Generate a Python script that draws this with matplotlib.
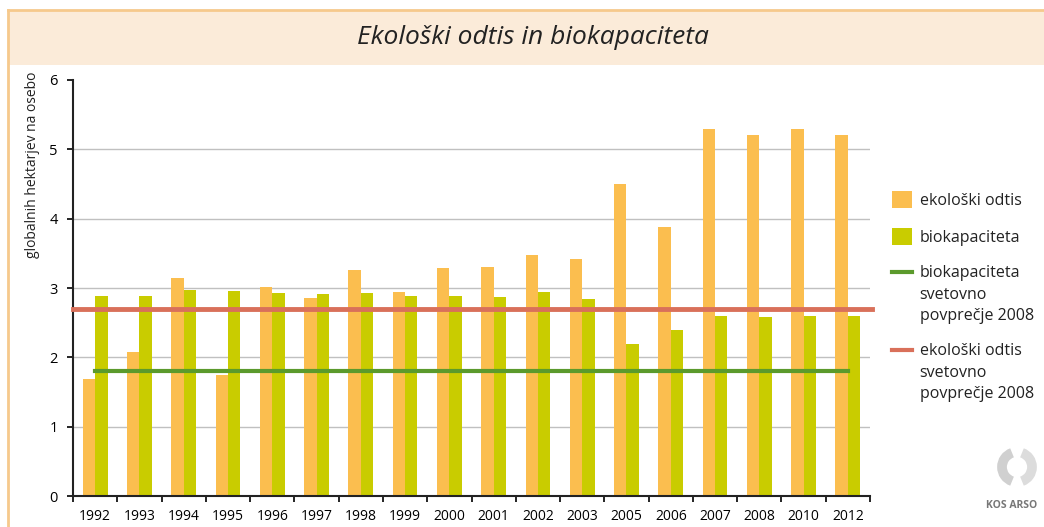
import numpy as np
import matplotlib.pyplot as plt
from matplotlib.patches import Rectangle, Patch, Arc
from matplotlib.lines import Line2D
from matplotlib.legend_handler import HandlerLine2D

years = ['1992', '1993', '1994', '1995', '1996', '1997', '1998', '1999', '2000',
         '2001', '2002', '2003', '2005', '2006', '2007', '2008', '2010', '2012']
odtis = [1.69, 2.08, 3.15, 1.74, 3.02, 2.86, 3.26, 2.94, 3.29,
         3.30, 3.48, 3.42, 4.50, 3.88, 5.29, 5.21, 5.29, 5.20]
biokap = [2.89, 2.88, 2.97, 2.95, 2.93, 2.91, 2.93, 2.88, 2.88,
          2.87, 2.94, 2.84, 2.19, 2.39, 2.60, 2.58, 2.60, 2.60]
biokap_svet = 1.8
odtis_svet = 2.7

plt.rcParams['font.family'] = ['Open Sans', 'DejaVu Sans']


class TopLine(HandlerLine2D):
    # put the line next to the first row of a multi-line label
    def create_artists(self, legend, orig_handle, xdescent, ydescent, width, height,
                       fontsize, trans):
        arts = super().create_artists(legend, orig_handle, xdescent, ydescent, width,
                                      height, fontsize, trans)
        for a in arts:
            a.set_ydata(np.asarray(a.get_ydata(), dtype=float) + 16)
        return arts


fig = plt.figure(figsize=(10.44, 5.27), dpi=100)
W, H = 1044, 527

# title band
fig.patches.append(Rectangle((8 / W, 1 - 65 / H), 1, 55 / H, transform=fig.transFigure,
                             facecolor='#fbebd9', edgecolor='none', zorder=0))
fig.add_artist(Line2D([8 / W, 1], [1 - 10 / H, 1 - 10 / H], transform=fig.transFigure,
                      color='#f6c98c', lw=2))
fig.add_artist(Line2D([8 / W, 8 / W], [0, 1 - 10 / H], transform=fig.transFigure,
                      color='#f6c98c', lw=2))
fig.text(533 / W, 1 - 38 / H, 'Ekološki odtis in biokapaciteta', ha='center', va='center',
         fontsize=19, style='italic', color='#222222')

ax = fig.add_axes([73 / W, 1 - 496 / H, (870 - 73) / W, (496 - 80) / H])
x = np.arange(len(years))
w = 0.28
ax.bar(x - w / 2, odtis, w, color='#fbbe4f', zorder=2)
ax.bar(x + w / 2, biokap, w, color='#c9cc00', zorder=2)
ax.plot([x[0], x[-1]], [biokap_svet, biokap_svet], color='#5b9a2c', lw=3, zorder=3)
ax.axhline(odtis_svet, xmin=0, xmax=1.003, color='#d9705a', lw=3.5, zorder=3, clip_on=False)

ax.set_xlim(-0.5, len(years) - 0.5)
ax.set_ylim(0, 6)
ax.set_yticks(range(7))
for g in range(1, 6):
    ax.axhline(g, color='#c0c0c0', lw=1, zorder=1)
ax.set_xticks(x)
ax.set_xticklabels(years, fontsize=10)
ax.tick_params(axis='x', length=0, pad=9)
ax.set_xticks(np.arange(-0.5, len(years)), minor=True)
ax.tick_params(axis='x', which='minor', length=4, width=1.2, direction='out')
ax.tick_params(axis='y', labelsize=10.5, length=4, width=1.2, pad=7)
for s in ['top', 'right']:
    ax.spines[s].set_visible(False)
for s in ['left', 'bottom']:
    ax.spines[s].set_linewidth(1.5)
    ax.spines[s].set_color('#222222')

fig.text(33 / W, 1 - 72 / H, 'globalnih hektarjev na osebo', rotation=90, ha='center', va='top',
         fontsize=10, color='#222222')

handles = [Patch(facecolor='#fbbe4f', edgecolor='none'),
           Patch(facecolor='#c9cc00', edgecolor='none'),
           Line2D([], [], color='#5b9a2c', lw=3),
           Line2D([], [], color='#d9705a', lw=3)]
labels = ['ekološki odtis', 'biokapaciteta',
          'biokapaciteta\nsvetovno\npovprečje 2008',
          'ekološki odtis\nsvetovno\npovprečje 2008']
leg = fig.legend(handles, labels, loc='upper left', bbox_to_anchor=(886 / W, 1 - 185 / H),
                 frameon=False, fontsize=11.5, handlelength=1.25, handleheight=1.25,
                 handletextpad=0.45, labelspacing=1.2, borderaxespad=0,
                 handler_map={Line2D: TopLine()})
for t in leg.get_texts():
    t.set_linespacing(1.45)
    t.set_color('#222222')

# logo
fig.add_artist(Arc((1017 / W, 1 - 467 / H), 30 / W, 30 / H, theta1=100, theta2=260,
                   transform=fig.transFigure, color='#d0d0d0', lw=7))
fig.add_artist(Arc((1017 / W, 1 - 467 / H), 30 / W, 30 / H, theta1=280, theta2=80,
                   transform=fig.transFigure, color='#dcdcdc', lw=7))
fig.text(1012 / W, 1 - 505 / H, 'KOS ARSO', ha='center', va='center', fontsize=7.5,
         color='#777777', fontweight='bold')

fig.savefig('out.png', dpi=100)
